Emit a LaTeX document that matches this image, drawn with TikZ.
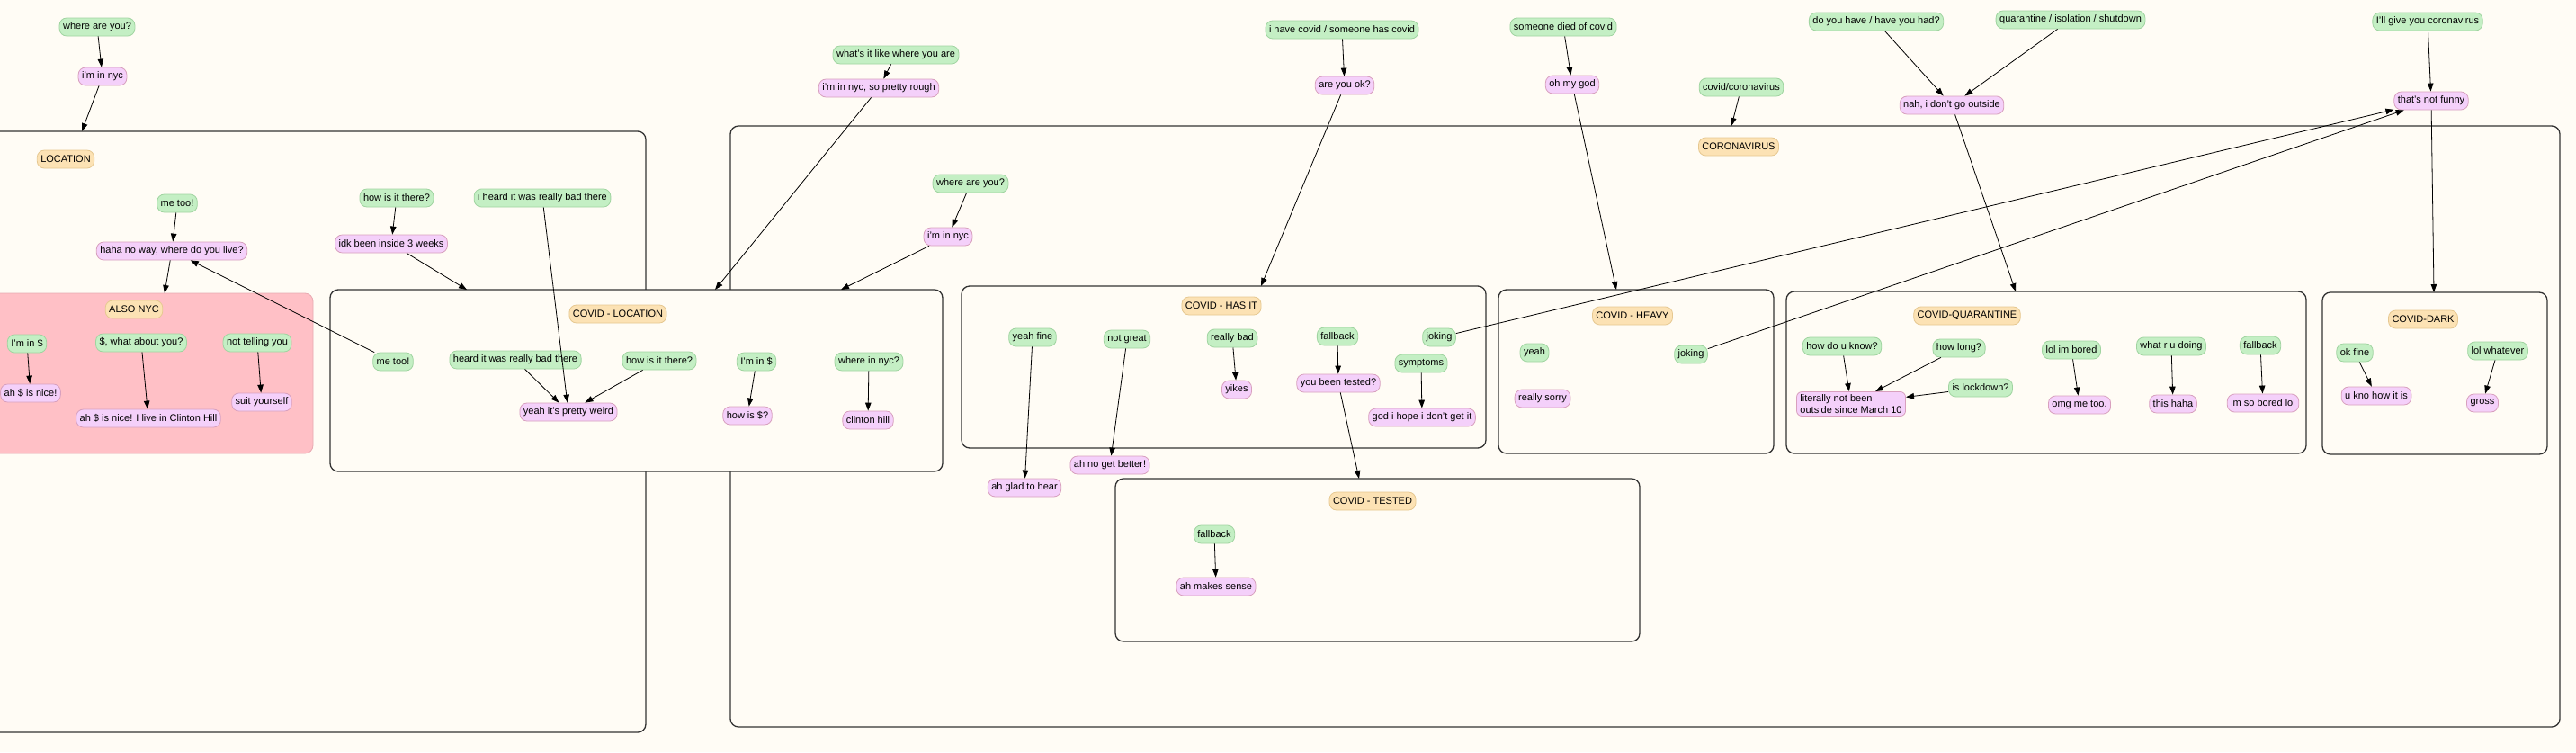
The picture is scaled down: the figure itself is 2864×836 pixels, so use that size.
\documentclass[tikz,border=0pt]{standalone}
\usepackage{fontspec}
\setmainfont{Liberation Sans}
\usepackage{xcolor}
\usepackage{tikz}
\usetikzlibrary{arrows.meta,positioning}

\definecolor{bgcol}{RGB}{255,252,245}
\definecolor{usrfill}{RGB}{196,239,196}
\definecolor{usrline}{RGB}{160,212,160}
\definecolor{botfill}{RGB}{244,208,250}
\definecolor{botline}{RGB}{216,160,190}
\definecolor{tagfill}{RGB}{252,226,180}
\definecolor{tagline}{RGB}{230,200,145}
\definecolor{nycfill}{RGB}{255,192,198}
\definecolor{nycline}{RGB}{232,170,178}

\tikzset{
  msg/.style={rounded corners=8pt, line width=0.8pt, inner xsep=4pt, inner ysep=0pt,
    minimum height=20pt, font=\fontsize{11}{13}\selectfont},
  usr/.style={msg, fill=usrfill, draw=usrline},
  bot/.style={msg, fill=botfill, draw=botline},
  tag/.style={msg, fill=tagfill, draw=tagline},
  grp/.style={draw=black!80, line width=1.3pt, rounded corners=9pt, fill=bgcol},
  link/.style={-{Triangle[length=9pt,width=6.5pt]}, line width=0.8pt}
}

\begin{document}
\begin{tikzpicture}[x=1pt,y=-1pt]
	\useasboundingbox (0,0) rectangle (2864,836);
	\fill[bgcol] (0,0) rectangle (2864,836);
	\clip (0,0) rectangle (2864,836);

	\draw[grp] (-40,146) rectangle (718,814);
	\draw[grp, fill=nycfill, draw=nycline, line width=0.8pt] (-40,326) rectangle (348,504);
	\draw[grp] (812,140) rectangle (2846,808);
	\draw[grp] (367,322) rectangle (1048,524);
	\draw[grp] (1069,318) rectangle (1652,498);
	\draw[grp] (1240,532) rectangle (1823,713);
	\draw[grp] (1666,322) rectangle (1972,504);
	\draw[grp] (1986,324) rectangle (2564,504);
	\draw[grp] (2582,325) rectangle (2832,505);

	\coordinate (locin) at (91,146);
	\coordinate (alsoin) at (183,326);
	\coordinate (covlocA) at (519,322);
	\coordinate (covlocB) at (795,322);
	\coordinate (covlocC) at (935,322);
	\coordinate (hasin) at (1402,318);
	\coordinate (testin) at (1511,532);
	\coordinate (heavyin) at (1797,322);
	\coordinate (corin) at (1925,140);
	\coordinate (quarin) at (2241,324);
	\coordinate (darkin) at (2706,325);

	\node[usr] (wru) at (108,30) {where are you?};
	\node[bot] (nyc) at (114,85) {i'm in nyc};
	\node[usr] (like) at (996,61) {what's it like where you are};
	\node[bot] (rough) at (977,98) {i'm in nyc, so pretty rough};
	\node[usr] (have) at (1492,33) {i have covid / someone has covid};
	\node[bot] (ok) at (1495,95) {are you ok?};
	\node[usr] (died) at (1738,30) {someone died of covid};
	\node[bot] (omg) at (1748,94) {oh my god};
	\node[usr] (cov) at (1936,97) {covid/coronavirus};
	\node[usr] (had) at (2086,24) {do you have / have you had?};
	\node[usr] (quar) at (2302,22) {quarantine / isolation / shutdown};
	\node[bot] (nah) at (2170,117) {nah, i don't go outside};
	\node[usr] (give) at (2699,24) {I'll give you coronavirus};
	\node[bot] (funny) at (2703,112) {that's not funny};

	\node[tag] (loc) at (73,177) {LOCATION};
	\node[usr] (metoo) at (197,226) {me too!};
	\node[bot] (haha) at (191,279) {haha no way, where do you live?};
	\node[usr] (howis) at (441,220) {how is it there?};
	\node[bot] (idk) at (435,271) {idk been inside 3 weeks};
	\node[usr] (heard) at (603,220) {i heard it was really bad there};

	\node[tag] (also) at (149,344) {ALSO NYC};
	\node[usr] (imin) at (30,382) {I'm in \$};
	\node[bot] (nice) at (34,437) {ah \$ is nice!};
	\node[usr] (what) at (157,381) {\$, what about you?};
	\node[bot] (clinton) at (165,465) {ah \$ is nice! I live in Clinton Hill};
	\node[usr] (nottell) at (286,381) {not telling you};
	\node[bot] (suit) at (291,447) {suit yourself};

	\node[tag] (corona) at (1933,163) {CORONAVIRUS};
	\node[usr] (wru2) at (1079,204) {where are you?};
	\node[bot] (nyc2) at (1054,263) {i'm in nyc};

	\node[tag] (covloc) at (687,349) {COVID - LOCATION};
	\node[usr] (metoo2) at (437,402) {me too!};
	\node[usr] (heard2) at (573,400) {heard it was really bad there};
	\node[usr] (howis2) at (733,401) {how is it there?};
	\node[bot] (weird) at (632,458) {yeah it's pretty weird};
	\node[usr] (imin2) at (841,402) {I'm in \$};
	\node[bot] (howd) at (831,462) {how is \$?};
	\node[usr] (where) at (966,402) {where in nyc?};
	\node[bot] (hill) at (965,467) {clinton hill};

	\node[tag] (hasit) at (1358,340) {COVID - HAS IT};
	\node[usr] (fine) at (1148,375) {yeah fine};
	\node[usr] (notgreat) at (1253,377) {not great};
	\node[usr] (bad) at (1370,376) {really bad};
	\node[usr] (fb1) at (1487,374) {fallback};
	\node[usr] (joke1) at (1600,375) {joking};
	\node[usr] (sym) at (1580,404) {symptoms};
	\node[bot] (yikes) at (1375,433) {yikes};
	\node[bot] (tested) at (1488,426) {you been tested?};
	\node[bot] (hope) at (1581,464) {god i hope i don't get it};
	\node[bot] (better) at (1234,517) {ah no get better!};
	\node[bot] (glad) at (1139,542) {ah glad to hear};

	\node[tag] (testlab) at (1526,557) {COVID - TESTED};
	\node[usr] (fb2) at (1350,594) {fallback};
	\node[bot] (sense) at (1352,652) {ah makes sense};

	\node[tag] (heavy) at (1815,351) {COVID - HEAVY};
	\node[usr] (yeah) at (1706,392) {yeah};
	\node[bot] (sorry) at (1715,443) {really sorry};
	\node[usr] (joke2) at (1880,394) {joking};

	\node[tag] (qlab) at (2187,351) {COVID-QUARANTINE};
	\node[usr] (know) at (2048,385) {how do u know?};
	\node[usr] (long) at (2178,387) {how long?};
	\node[usr] (lock) at (2202,431) {is lockdown?};
	\node[bot, align=left, inner ysep=3pt, rounded corners=6pt] (march) at (2058,449) {literally not been\\outside since March 10};
	\node[usr] (bored) at (2303,389) {lol im bored};
	\node[bot] (metoo3) at (2312,450) {omg me too.};
	\node[usr] (doing) at (2414,385) {what r u doing};
	\node[bot] (thishaha) at (2416,449) {this haha};
	\node[usr] (fb3) at (2513,384) {fallback};
	\node[bot] (sobored) at (2516,448) {im so bored lol};

	\node[tag] (dark) at (2694,355) {COVID-DARK};
	\node[usr] (okfine) at (2618,392) {ok fine};
	\node[bot] (kno) at (2642,440) {u kno how it is};
	\node[usr] (whatever) at (2777,390) {lol whatever};
	\node[bot] (gross) at (2760,448) {gross};

	\draw[link] (wru) -- (nyc);
	\draw[link] (nyc) -- (locin);
	\draw[link] (like) -- (rough);
	\draw[link] (rough) -- (covlocB);
	\draw[link] (have) -- (ok);
	\draw[link] (ok) -- (hasin);
	\draw[link] (died) -- (omg);
	\draw[link] (omg) -- (heavyin);
	\draw[link] (cov) -- (corin);
	\draw[link] (had) -- (nah);
	\draw[link] (quar) -- (nah);
	\draw[link] (nah) -- (quarin);
	\draw[link] (give) -- (funny);
	\draw[link] (funny) -- (darkin);
	\draw[link] (metoo) -- (haha);
	\draw[link] (haha) -- (alsoin);
	\draw[link] (howis) -- (idk);
	\draw[link] (idk) -- (covlocA);
	\draw[link] (heard) -- (weird);
	\draw[link] (imin) -- (nice);
	\draw[link] (what) -- (clinton);
	\draw[link] (nottell) -- (suit);
	\draw[link] (wru2) -- (nyc2);
	\draw[link] (nyc2) -- (covlocC);
	\draw[link] (metoo2) -- (haha);
	\draw[link] (heard2) -- (weird);
	\draw[link] (howis2) -- (weird);
	\draw[link] (imin2) -- (howd);
	\draw[link] (where) -- (hill);
	\draw[link] (fine) -- (glad);
	\draw[link] (notgreat) -- (better);
	\draw[link] (bad) -- (yikes);
	\draw[link] (fb1) -- (tested);
	\draw[link] (tested) -- (testin);
	\draw[link] (sym) -- (hope);
	\draw[link] (joke1) -- (funny);
	\draw[link] (fb2) -- (sense);
	\draw[link] (joke2) -- (funny);
	\draw[link] (know) -- (march);
	\draw[link] (long) -- (march);
	\draw[link] (lock) -- (march);
	\draw[link] (bored) -- (metoo3);
	\draw[link] (doing) -- (thishaha);
	\draw[link] (fb3) -- (sobored);
	\draw[link] (okfine) -- (kno);
	\draw[link] (whatever) -- (gross);
\end{tikzpicture}
\end{document}
